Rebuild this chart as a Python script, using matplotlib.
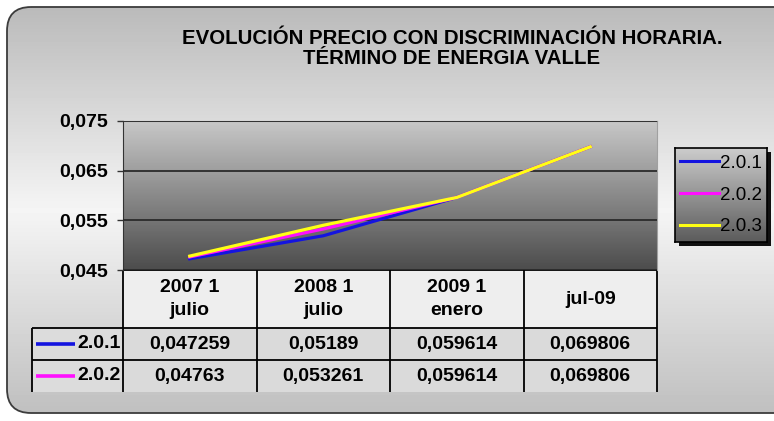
import numpy as np
import matplotlib.pyplot as plt
from matplotlib.patches import FancyBboxPatch, Rectangle
from matplotlib.lines import Line2D

# data
periods = ['2007 1\njulio', '2008 1\njulio', '2009 1\nenero', 'jul-09']
tarifa_201 = [0.047259, 0.05189, 0.059614, 0.069806]
tarifa_202 = [0.04763, 0.053261, 0.059614, 0.069806]
tarifa_203 = [0.0478, 0.0540, 0.0596, 0.0698]
series_names = ['2.0.1', '2.0.2', '2.0.3']
series_colors = ['#1414e0', '#ff10ff', '#ffff14']
y_ticks = [0.045, 0.055, 0.065, 0.075]

W, H = 774, 421
fig = plt.figure(figsize=(W / 100, H / 100), dpi=100)
plt.rcParams['font.family'] = ['Liberation Sans', 'DejaVu Sans']


def box(x0, y0, x1, y1):
    # pixel box (origin top-left) -> figure rect
    return [x0 / W, 1 - y1 / H, (x1 - x0) / W, (y1 - y0) / H]


def fmt(v, nd=None):
    s = f'{v:.{nd}f}' if nd is not None else repr(v)
    return s.replace('.', ',')


# ---- background panel with rounded corners
bg = fig.add_axes([0, 0, 1, 1])
bg.set_xlim(0, W)
bg.set_ylim(H, 0)
bg.axis('off')
rows = np.arange(H)
shade = np.interp(rows, [7, 210, 413], [0.73, 0.96, 0.75])
panel = FancyBboxPatch((7, 7), 820, 406, boxstyle='round,pad=0,rounding_size=24',
                       facecolor='none', edgecolor='#3c3c3c', lw=1.3, zorder=2)
bg.add_patch(panel)
im = bg.imshow(shade[:, None], cmap='gray', vmin=0, vmax=1, extent=(0, W, H, 0),
               aspect='auto', zorder=1)
im.set_clip_path(panel)

bg.text(452, 38, 'EVOLUCIÓN PRECIO CON DISCRIMINACIÓN HORARIA.', ha='center',
        va='center', fontsize=14.7, fontweight='bold', zorder=3)
bg.text(452, 59, 'TÉRMINO DE ENERGIA VALLE', ha='center', va='center',
        fontsize=14.7, fontweight='bold', zorder=3)

# ---- table under the plot
col_x = np.linspace(123, 657, len(periods) + 1)
centers = (col_x[:-1] + col_x[1:]) / 2
for i in range(len(periods)):
    bg.add_patch(Rectangle((col_x[i], 270), col_x[i + 1] - col_x[i], 58,
                           facecolor='#eeeeee', edgecolor='none', zorder=3))
    bg.add_patch(Rectangle((col_x[i], 328), col_x[i + 1] - col_x[i], 64,
                           facecolor='#dadada', edgecolor='none', zorder=3))
    bg.text(centers[i], 299, periods[i], ha='center', va='center', fontsize=14,
            fontweight='bold', linespacing=1.4, zorder=5)
bg.add_patch(Rectangle((32, 328), 91, 64, facecolor='#dcdcdc', edgecolor='none', zorder=3))

lw_t = 1.3
bg.hlines([270], 123, 657, color='black', lw=lw_t, zorder=4)
bg.hlines([328, 360], 32, 657, color='black', lw=lw_t, zorder=4)
bg.vlines(col_x, 270, 392, color='black', lw=lw_t, zorder=4)
bg.vlines([32], 328, 392, color='black', lw=lw_t, zorder=4)

row_y = [344, 376]
for r, vals in enumerate([tarifa_201, tarifa_202]):
    bg.plot([36, 75], [row_y[r], row_y[r]], color=series_colors[r], lw=2.6, zorder=5,
            solid_capstyle='butt')
    bg.text(121, row_y[r], series_names[r], ha='right', va='center', fontsize=14,
            fontweight='bold', zorder=5)
    for i, v in enumerate(vals):
        bg.text(centers[i], row_y[r], fmt(v), ha='center', va='center', fontsize=14,
                fontweight='bold', zorder=5)

# ---- plot area
ax = fig.add_axes(box(123, 121, 657, 270))
x = np.arange(len(periods))
ax.imshow(np.linspace(0.78, 0.30, 100)[:, None], cmap='gray', vmin=0, vmax=1,
          extent=(-0.5, len(periods) - 0.5, y_ticks[0], y_ticks[-1]), aspect='auto', zorder=0)
ax.set_xlim(-0.5, len(periods) - 0.5)
ax.set_ylim(y_ticks[0], y_ticks[-1])
for vals, col in zip([tarifa_201, tarifa_202, tarifa_203], series_colors):
    ax.plot(x, vals, color=col, lw=2.3, zorder=3)
ax.set_yticks(y_ticks)
ax.set_yticklabels([fmt(t, 3) for t in y_ticks], fontweight='bold', fontsize=14)
ax.set_xticks([])
ax.yaxis.grid(True, color='#2a2a2a', lw=1.3, zorder=1)
ax.set_axisbelow(False)
ax.tick_params(axis='y', direction='out', length=4, width=1, color='#333333', pad=7)
ax.spines['top'].set_color('#8a8a8a')
ax.spines['right'].set_color('#a0a0a0')
ax.spines['left'].set_color('#333333')
ax.spines['bottom'].set_visible(False)

# ---- legend box with gradient
shadow = Rectangle((679, 152), 92, 94, facecolor='#111111', edgecolor='none', zorder=3)
bg.add_patch(shadow)
lax = fig.add_axes(box(675, 148, 767, 242))
lax.imshow(np.linspace(0.80, 0.36, 100)[:, None], cmap='gray', vmin=0, vmax=1,
           extent=(0, 1, 0, 1), aspect='auto')
lax.set_xticks([])
lax.set_yticks([])
for s in lax.spines.values():
    s.set_color('black')
    s.set_linewidth(1.2)
handles = [Line2D([], [], color=c, lw=2.2) for c in series_colors]
fig.legend(handles, series_names, loc='center',
           bbox_to_anchor=((675 + 767) / 2 / W, 1 - (148 + 242) / 2 / H),
           frameon=False, fontsize=13.5, handlelength=2.1, handletextpad=0.05,
           labelspacing=0.78, borderpad=0)

fig.savefig('out.png', dpi=100)
